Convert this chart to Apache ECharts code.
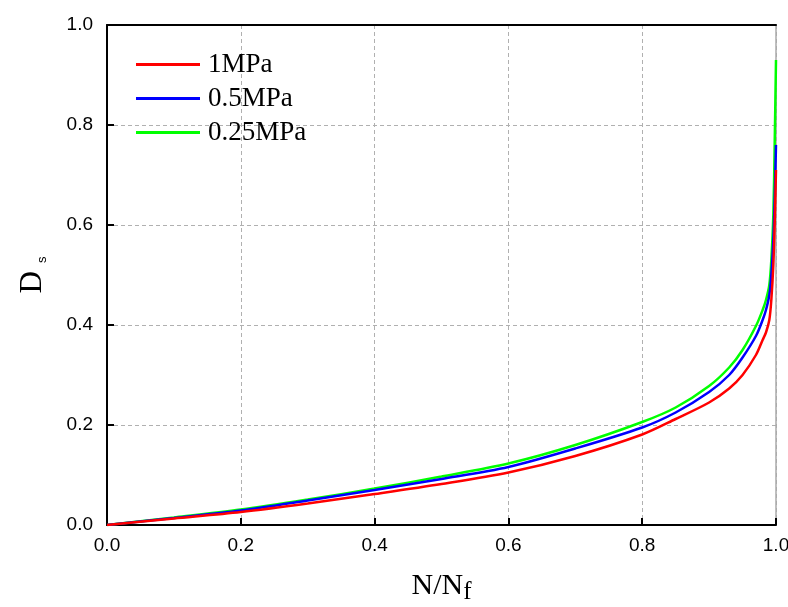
<!DOCTYPE html>
<html><head><meta charset="utf-8">
<script src="https://cdn.jsdelivr.net/npm/echarts@6/dist/echarts.min.js"></script>
<style>html,body{margin:0;padding:0;background:#fff}#c{width:788px;height:607px}</style>
</head><body><div id="c"></div>
<script>
var N = [0, 0.1, 0.2, 0.3, 0.4, 0.5, 0.6, 0.7, 0.8, 0.85, 0.9, 0.93, 0.95, 0.97, 0.98, 0.985, 0.99, 0.993, 0.996, 0.998, 1.0];
var D_1MPa   = [0, 0.013, 0.026, 0.043, 0.062, 0.082, 0.105, 0.138, 0.181, 0.212, 0.245, 0.273, 0.300, 0.340, 0.370, 0.385, 0.41, 0.45, 0.52, 0.60, 0.71];
var D_05MPa  = [0, 0.014, 0.029, 0.049, 0.070, 0.092, 0.116, 0.153, 0.195, 0.225, 0.266, 0.300, 0.335, 0.378, 0.410, 0.430, 0.46, 0.50, 0.57, 0.65, 0.76];
var D_025MPa = [0, 0.015, 0.031, 0.051, 0.073, 0.097, 0.123, 0.160, 0.206, 0.235, 0.278, 0.315, 0.350, 0.398, 0.430, 0.450, 0.48, 0.53, 0.62, 0.76, 0.93];
var seriesNames = ['1MPa', '0.5MPa', '0.25MPa'];
var seriesColors = ['#ff0000', '#0000ff', '#00ff00'];
var seriesValues = [D_1MPa, D_05MPa, D_025MPa];
var xTicks = {min: 0, max: 1, interval: 0.2};
var yTicks = {min: 0, max: 1, interval: 0.2};

function pairs(ys){ return N.map(function(x,i){ return [x, ys[i]]; }); }

var chart = echarts.init(document.getElementById('c'));
var gridDash = {show: true, lineStyle: {color: '#b0b0b0', type: [4, 3], width: 1}};
var tickLbl = {color: '#000', fontFamily: 'Liberation Sans, Arial', fontSize: 19, formatter: function(v){ return v.toFixed(1); }};
var serif = 'Liberation Serif, Times New Roman';
chart.setOption({
  animation: false,
  backgroundColor: '#fff',
  grid: {left: 107, right: 12, top: 25, bottom: 82, containLabel: false, outerBoundsMode: 'none'},
  legend: {
    orient: 'vertical', left: 131, top: 45, itemWidth: 64, itemHeight: 3, itemGap: 5,
    icon: 'rect',
    textStyle: {fontFamily: serif, fontSize: 27, color: '#000', padding: [0,0,0,3], lineHeight: 29},
    data: seriesNames
  },
  xAxis: [{
    type: 'value', min: xTicks.min, max: xTicks.max, interval: xTicks.interval, position: 'bottom',
    axisLine: {onZero: false, lineStyle: {color: '#000', width: 2}},
    axisTick: {inside: true, length: 7, lineStyle: {color: '#000', width: 2}},
    axisLabel: Object.assign({margin: 11}, tickLbl),
    splitLine: gridDash,
    name: '{a|N/N}{b|f}', nameLocation: 'middle', nameGap: 46,
    nameTextStyle: {rich: {
      a: {fontFamily: serif, fontSize: 30, color: '#000', lineHeight: 34, verticalAlign: 'top'},
      b: {fontFamily: serif, fontSize: 25, color: '#000', lineHeight: 34, verticalAlign: 'bottom', padding: [12,0,0,0]}
    }}
  }, {
    type: 'value', min: xTicks.min, max: xTicks.max, interval: xTicks.interval, position: 'top',
    axisLine: {show: true, onZero: false, lineStyle: {color: '#000', width: 2}},
    axisTick: {show: false}, axisLabel: {show: false}, splitLine: {show: false}
  }],
  yAxis: [{
    type: 'value', min: yTicks.min, max: yTicks.max, interval: yTicks.interval, position: 'left',
    axisLine: {show: true, onZero: false, lineStyle: {color: '#000', width: 2}},
    axisTick: {show: true, inside: true, length: 7, lineStyle: {color: '#000', width: 2}},
    axisLabel: Object.assign({margin: 14}, tickLbl),
    splitLine: gridDash,
    name: '{a|D}{b|s}', nameLocation: 'middle', nameGap: 58, nameRotate: 90,
    nameTextStyle: {rich: {
      a: {fontFamily: serif, fontSize: 31, color: '#000', lineHeight: 32},
      b: {fontFamily: 'Liberation Sans, Arial', fontSize: 13, color: '#000', lineHeight: 32, verticalAlign: 'bottom', padding: [0,0,0,8]}
    }}
  }, {
    type: 'value', min: yTicks.min, max: yTicks.max, interval: yTicks.interval, position: 'right',
    axisLine: {show: true, onZero: false, lineStyle: {color: '#aaaaaa', width: 1.5}},
    axisTick: {show: false}, axisLabel: {show: false}, splitLine: {show: false}
  }],
  series: seriesNames.map(function(n, i){
    return {
      name: n, type: 'line', data: pairs(seriesValues[i]), showSymbol: false, symbol: 'none',
      smooth: 0.3, color: seriesColors[i],
      lineStyle: {color: seriesColors[i], width: 2.5}, z: 2 + (2 - i)
    };
  })
});
</script></body></html>
